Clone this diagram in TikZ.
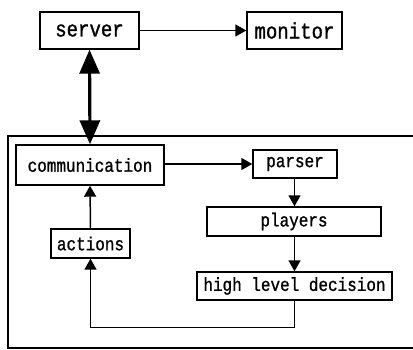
\documentclass[tikz,border=0pt]{standalone}
\usepackage{fontspec}
\newfontfamily\boxfont[FakeStretch=0.85,FakeBold=1]{Liberation Mono}
\usetikzlibrary{arrows.meta}
\tikzset{
  block/.style={draw, line width=1.4pt, inner sep=0pt, font=\boxfont\fontsize{18.8}{18.8}\selectfont},
  bigblock/.style={block, font=\boxfont\fontsize{22.4}{22.4}\selectfont},
  flow/.style={-{Triangle[length=11pt,width=12pt]}, line width=1.5pt},
  link/.style={{Triangle[length=24pt,width=20pt]}-{Triangle[length=24pt,width=20pt]}, line width=3.2pt}
}
\begin{document}
\begin{tikzpicture}[x=1pt,y=-1pt]
        \useasboundingbox (0,0) rectangle (413,350);
        \draw[line width=1.4pt] (8,136) rectangle (420,348);
        \node[bigblock, minimum width=99pt, minimum height=37pt] (server) at (89.5,30.5) {server};
        \node[bigblock, minimum width=95pt, minimum height=37pt] (monitor) at (294.5,30.5) {monitor};
        \node[block, minimum width=148pt, minimum height=40pt] (comm) at (90,165) {communication};
        \node[block, minimum width=84pt, minimum height=28pt] (parser) at (295,164) {parser};
        \node[block, minimum width=174pt, minimum height=29pt] (players) at (294,221.5) {players};
        \node[block, minimum width=195pt, minimum height=28pt] (decision) at (294.5,286) {high level decision};
        \node[block, minimum width=79pt, minimum height=29pt] (actions) at (90.5,243.5) {actions};
        \draw[flow] (server) -- (monitor);
        \draw[link] (server.south) -- (comm.north);
        \draw[flow] (comm.east |- parser) -- (parser.west);
        \draw[flow] (parser.south -| decision) -- (players.north -| decision);
        \draw[flow] (players.south -| decision) -- (decision.north);
        \draw[flow] (decision.south) -- ++(0,27) -| (actions.south);
        \draw[flow] (actions.north) -- (comm.south);
      \end{tikzpicture}
\end{document}
